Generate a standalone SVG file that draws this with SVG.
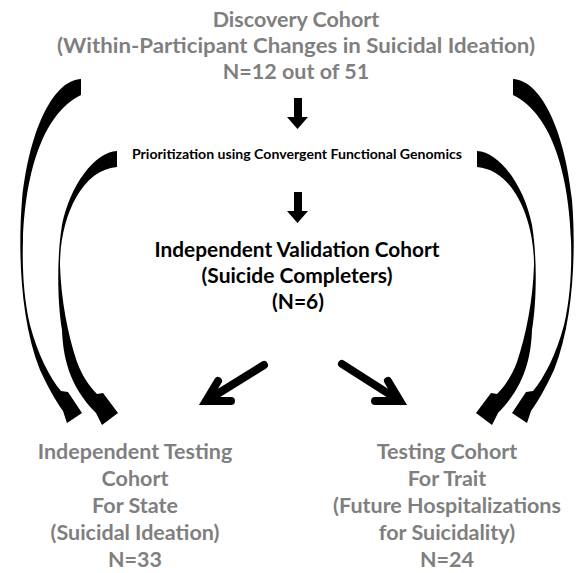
<svg xmlns="http://www.w3.org/2000/svg" width="579" height="573" viewBox="0 0 579 573">
<style>
text{font-family:"Lato","Liberation Sans",sans-serif;font-weight:700;text-anchor:middle}
.g{fill:#7f7f7f;font-size:21.5px}
.b{fill:#000;font-size:21px}
.s{fill:#000;font-size:12.5px}
.blk{fill:#000;stroke:none}
.diag{fill:none;stroke:#000;stroke-width:8;stroke-linecap:round;stroke-linejoin:miter}
</style>
<rect width="579" height="573" fill="#fff"/>
<defs>
  <path id="outerArrow" class="blk" d="M81,79 C55,80 30,125 22,200 C18,250 20,320 40,370 C47,385 55,400 63,411 L67,423 L82,413 L68,392 L61,391 C50,378 38,355 30,325 C24,300 22,270 23,240 C25,180 40,115 81,95 Z"/>
  <path id="innerArrow" class="blk" d="M117,151 C95,152 70,185 62,225 C57,255 57,300 62,330 C63,355 68,385 96,413 L102,425 L118,413 L103,393 L97,394 C88,385 82,375 77,362 C68,335 61,300 60,265 C60,220 80,170 117,167 Z"/>
</defs>
<g id="connectors">
  <g id="curves-left">
    <use href="#outerArrow"/>
    <use href="#innerArrow"/>
  </g>
  <g id="curves-right" transform="translate(594,0) scale(-1,1)">
    <use href="#outerArrow"/>
    <use href="#innerArrow"/>
  </g>
  <polygon class="blk" points="294,98 302,98 302,117 308,117 297.5,129 287,117 294,117"/>
  <polygon class="blk" points="294,192 302,192 302,211 308,211 297.5,223 287,211 294,211"/>
  <path class="diag" d="M264,365 L206,401 M218,381 L206,401 L231,401"/>
  <path class="diag" d="M342,364 L400,401 M388,381 L400,401 L375,401"/>
</g>
<g id="discovery">
  <text class="g" x="296" y="27">Discovery Cohort</text>
  <text class="g" x="296" y="53" textLength="478" lengthAdjust="spacingAndGlyphs">(Within-Participant Changes in Suicidal Ideation)</text>
  <text class="g" x="296" y="79">N=12 out of 51</text>
</g>
<g id="prioritization">
  <text class="s" x="297" y="159" textLength="330" lengthAdjust="spacingAndGlyphs">Prioritization using Convergent Functional Genomics</text>
</g>
<g id="validation">
  <text class="b" x="297" y="257" textLength="285" lengthAdjust="spacingAndGlyphs">Independent Validation Cohort</text>
  <text class="b" x="297" y="283">(Suicide Completers)</text>
  <text class="b" x="298" y="309">(N=6)</text>
</g>
<g id="testing-state">
  <text class="g" x="135" y="459">Independent Testing</text>
  <text class="g" x="135" y="486">Cohort</text>
  <text class="g" x="135" y="513">For State</text>
  <text class="g" x="135" y="540">(Suicidal Ideation)</text>
  <text class="g" x="135" y="567">N=33</text>
</g>
<g id="testing-trait">
  <text class="g" x="447" y="459">Testing Cohort</text>
  <text class="g" x="447" y="486">For Trait</text>
  <text class="g" x="447" y="513">(Future Hospitalizations</text>
  <text class="g" x="447" y="540">for Suicidality)</text>
  <text class="g" x="447" y="567">N=24</text>
</g>
</svg>
